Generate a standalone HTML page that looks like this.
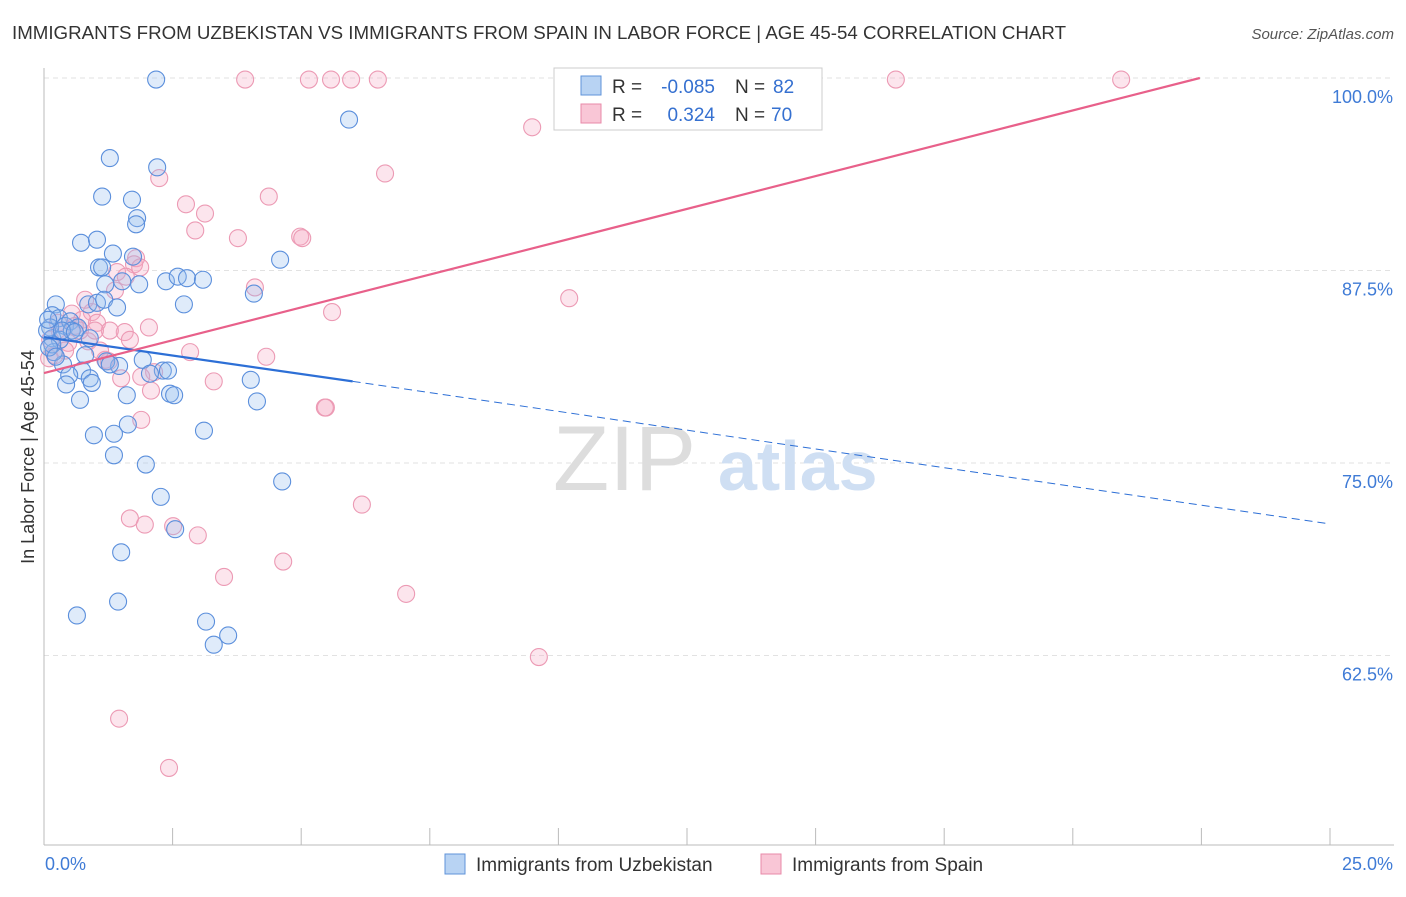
<!DOCTYPE html>
<html><head><meta charset="utf-8"><style>
body{margin:0;background:#fff;font-family:"Liberation Sans",sans-serif}
svg text{font-family:"Liberation Sans",sans-serif}
</style></head><body>
<svg id="chart" width="1406" height="892">
<text x="12" y="39" font-size="18" fill="#333" textLength="1054" lengthAdjust="spacingAndGlyphs">IMMIGRANTS FROM UZBEKISTAN VS IMMIGRANTS FROM SPAIN IN LABOR FORCE | AGE 45-54 CORRELATION CHART</text>
<text x="1394" y="39" font-size="15" fill="#555" text-anchor="end" font-style="italic">Source: ZipAtlas.com</text>
<g id="grid"></g>
<g><text x="553" y="490" font-size="92" fill="#ddd" font-family="Liberation Serif,serif">ZIP</text><text x="718" y="490" font-size="70" fill="#cfdff3" font-weight="bold">atlas</text></g>
<g id="axes"></g>
<g id="pts"></g>
<g id="lines"></g>
<text transform="translate(34,457) rotate(-90)" font-size="18" fill="#333" text-anchor="middle">In Labor Force | Age 45-54</text>
<g>
<rect x="554" y="68" width="268" height="62" fill="#fff" stroke="#ccc"/>
<rect x="581" y="76" width="20" height="19" fill="#b8d3f3" stroke="#5f93da"/>
<rect x="581" y="104" width="20" height="19" fill="#f9c6d6" stroke="#e88aa8"/>
<text x="612" y="93" font-size="19" fill="#333">R =</text>
<text x="715" y="93" font-size="19" fill="#3570d0" text-anchor="end">-0.085</text>
<text x="735" y="93" font-size="19" fill="#333">N =</text>
<text x="773" y="93" font-size="19" fill="#3570d0">82</text>
<text x="612" y="121" font-size="19" fill="#333">R =</text>
<text x="715" y="121" font-size="19" fill="#3570d0" text-anchor="end">0.324</text>
<text x="735" y="121" font-size="19" fill="#333">N =</text>
<text x="771" y="121" font-size="19" fill="#3570d0">70</text>
</g>
<g>
<rect x="445" y="854" width="20" height="20" fill="#b8d3f3" stroke="#5f93da"/>
<text x="476" y="871" font-size="19" fill="#333">Immigrants from Uzbekistan</text>
<rect x="761" y="854" width="20" height="20" fill="#f9c6d6" stroke="#e88aa8"/>
<text x="792" y="871" font-size="19" fill="#333">Immigrants from Spain</text>
</g>
</svg>
<script>
const blueData=[[2.18,99.9],[5.93,97.3],[1.28,94.8],[2.20,94.2],[1.13,92.3],[1.71,92.1],[1.81,90.9],[1.79,90.5],[0.72,89.3],[1.03,89.5],[1.34,88.6],[1.07,87.7],[1.13,87.7],[1.73,88.4],[4.59,88.2],[1.52,86.8],[1.19,86.6],[1.85,86.6],[2.37,86.8],[2.60,87.1],[2.78,87.0],[3.09,86.9],[4.08,86.0],[0.23,85.3],[0.86,85.3],[1.03,85.4],[1.17,85.6],[1.42,85.1],[2.72,85.3],[0.16,84.6],[0.29,84.4],[0.41,83.9],[0.51,84.2],[0.66,83.8],[0.12,83.8],[0.16,83.1],[0.31,83.0],[0.89,83.1],[0.80,82.0],[0.37,81.4],[0.19,82.2],[0.16,82.7],[1.92,81.7],[0.74,81.0],[0.49,80.7],[0.89,80.5],[0.93,80.2],[0.43,80.1],[1.46,81.3],[1.21,81.6],[2.31,81.0],[2.41,81.0],[2.06,80.8],[4.02,80.4],[0.70,79.1],[1.61,79.4],[2.45,79.5],[2.53,79.4],[4.14,79.0],[0.97,76.8],[1.36,76.9],[3.11,77.1],[1.63,77.5],[1.36,75.5],[1.98,74.9],[2.27,72.8],[4.63,73.8],[2.55,70.7],[1.50,69.2],[1.44,66.0],[0.64,65.1],[3.15,64.7],[3.58,63.8],[3.30,63.2],[0.10,82.5],[1.28,81.4],[0.06,83.6],[0.54,83.6],[0.35,83.6],[0.08,84.3],[0.23,81.9],[0.60,83.5]];
const pinkData=[[3.91,99.9],[5.15,99.9],[5.58,99.9],[5.97,99.9],[6.49,99.9],[16.56,99.9],[20.94,99.9],[9.49,96.8],[2.24,93.5],[6.63,93.8],[4.37,92.3],[2.76,91.8],[3.13,91.2],[2.94,90.1],[3.77,89.6],[4.98,89.7],[5.02,89.6],[1.79,88.3],[1.75,87.9],[1.42,87.4],[1.59,87.1],[4.10,86.4],[10.21,85.7],[5.60,84.8],[0.54,84.7],[0.93,84.8],[0.74,84.3],[1.03,84.1],[2.04,83.8],[1.57,83.5],[1.28,83.6],[0.31,83.5],[0.12,83.0],[0.47,82.8],[0.86,82.9],[2.84,82.2],[4.32,81.9],[0.21,82.0],[1.19,81.7],[1.26,81.6],[1.50,80.5],[2.14,80.9],[1.89,80.6],[3.30,80.3],[2.08,79.7],[5.48,78.6],[5.46,78.6],[1.89,77.8],[6.18,72.3],[1.67,71.4],[1.96,71.0],[2.51,70.9],[2.99,70.3],[4.65,68.6],[3.50,67.6],[7.04,66.5],[9.62,62.4],[1.46,58.4],[2.43,55.2],[0.70,83.6],[1.09,82.3],[0.41,82.3],[0.27,84.1],[0.80,85.6],[1.38,86.2],[0.10,81.8],[1.67,83.0],[0.99,83.6],[0.60,83.9],[1.87,87.7]];
const yTicks=[100,87.5,75,62.5];
const yTickLabels=["100.0%","87.5%","75.0%","62.5%"];
const xTicks=[0,2.5,5,7.5,10,12.5,15,17.5,20,22.5,25];
const blueTrend=[[0,83.18],[6.0,80.3],[25,71.04]];
const pinkTrend=[[0,80.84],[22.47,100]];
const NS="http://www.w3.org/2000/svg";
const X=v=>44+v*51.44, Y=v=>78+(100-v)*15.4;
function mk(t,a,p){const e=document.createElementNS(NS,t);for(const k in a)e.setAttribute(k,a[k]);p.appendChild(e);return e;}
const grid=document.getElementById('grid'),axes=document.getElementById('axes');
yTicks.forEach((t,i)=>{
 const l=mk('line',{x1:44,x2:1394,y1:Y(t),y2:Y(t),stroke:'#e2e2e2','stroke-dasharray':'5,4'},grid);
 
 
 const tx=mk('text',{x:1393,y:Y(t)+25,'font-size':18,fill:'#3f7bd6','text-anchor':'end'},axes);
 tx.textContent=yTickLabels[i];
 
 
});
mk('line',{x1:44,x2:44,y1:68,y2:845,stroke:'#bbb'},axes);
mk('line',{x1:44,x2:1394,y1:845,y2:845,stroke:'#bbb'},axes);
xTicks.forEach(t=>{const l=mk('line',{x1:X(t),x2:X(t),y1:828,y2:845,stroke:'#bbb'},axes);
 
 });
const x0=mk('text',{x:45,y:870,'font-size':18,fill:'#3f7bd6'},axes);x0.textContent=xTicks[0].toFixed(1)+'%';


const x1=mk('text',{x:1393,y:870,'font-size':18,fill:'#3f7bd6','text-anchor':'end'},axes);x1.textContent=xTicks[xTicks.length-1].toFixed(1)+'%';


const pts=document.getElementById('pts');
pinkData.forEach(d=>{const c=mk('circle',{cx:X(d[0]),cy:Y(d[1]),r:8.5,fill:'rgba(246,170,195,0.3)',stroke:'#ec9ab4','stroke-width':1.1},pts);
 
 });
blueData.forEach(d=>{const c=mk('circle',{cx:X(d[0]),cy:Y(d[1]),r:8.5,fill:'rgba(150,190,240,0.3)',stroke:'#5b8fdc','stroke-width':1.1},pts);
 
 });
const lines=document.getElementById('lines');
const bs=mk('line',{x1:X(blueTrend[0][0]),y1:Y(blueTrend[0][1]),x2:X(blueTrend[1][0]),y2:Y(blueTrend[1][1]),stroke:'#2d6fd6','stroke-width':2.2},lines);


const bd=mk('line',{x1:X(blueTrend[1][0]),y1:Y(blueTrend[1][1]),x2:X(blueTrend[2][0]),y2:Y(blueTrend[2][1]),stroke:'#2d6fd6','stroke-width':1,'stroke-dasharray':'8,5'},lines);


const pl=mk('line',{x1:X(pinkTrend[0][0]),y1:Y(pinkTrend[0][1]),x2:X(pinkTrend[1][0]),y2:Y(pinkTrend[1][1]),stroke:'#e8608a','stroke-width':2.2},lines);


</script>
</body></html>
